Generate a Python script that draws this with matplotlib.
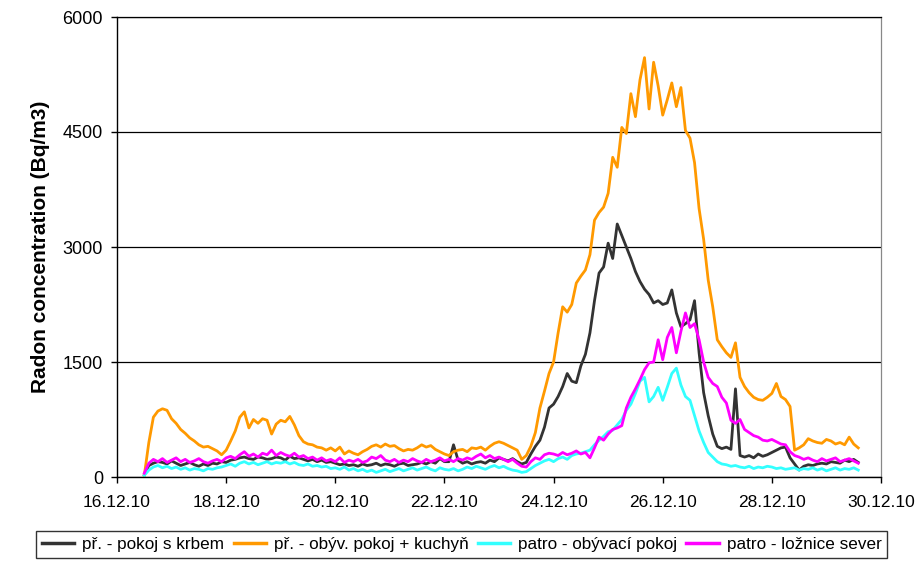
import matplotlib
matplotlib.use("Agg")
import matplotlib.pyplot as plt
import matplotlib.dates as mdates
import pandas as pd

plt.rcParams['font.family'] = ['Liberation Sans', 'DejaVu Sans']

# sampling: every 2 hours starting 16.12.2010 12:00
start_time = "2010-12-16 12:00"
step = "2h"

labels = ["př. - pokoj s krbem", "př. - obýv. pokoj + kuchyň",
          "patro - obývací pokoj", "patro - ložnice sever"]
colors = ["#333333", "#FF9900", "#33FFFF", "#FF00FF"]

krb = [
    30, 150, 180, 200, 190, 170, 210, 180, 150, 170,
    190, 160, 140, 170, 150, 180, 170, 200, 190, 220,
    230, 250, 260, 240, 230, 260, 250, 230, 240, 260,
    250, 220, 270, 240, 250, 230, 210, 230, 200, 220,
    190, 200, 180, 160, 170, 150, 160, 140, 170, 150,
    160, 180, 150, 170, 160, 140, 170, 180, 150, 160,
    170, 190, 170, 200, 180, 240, 200, 200, 420, 220,
    180, 200, 170, 190, 200, 180, 220, 200, 250, 230,
    210, 240, 200, 170, 190, 300, 400, 480, 650, 900,
    950, 1050, 1180, 1350, 1250, 1230, 1450, 1600, 1880, 2300,
    2660, 2740, 3050, 2850, 3300, 3150, 3000, 2850, 2680, 2550,
    2450, 2380, 2270, 2300, 2250, 2270, 2440, 2140, 1960, 2000,
    2050, 2300, 1620, 1100, 800, 560, 400, 370, 390, 360,
    1150, 280, 260, 280, 250, 300, 270, 290, 320, 350,
    380, 390, 250, 170, 90, 140, 160, 150, 170, 180,
    170, 200, 190, 180, 220, 200, 230, 190,
]

obyv = [
    20, 450, 780, 860, 890, 870, 760, 700, 620, 570,
    510, 470, 420, 390, 400, 370, 340, 290, 350, 470,
    600, 780, 850, 640, 750, 700, 760, 740, 560, 690,
    740, 720, 790, 680, 540, 460, 430, 420, 390, 380,
    350, 380, 340, 390, 300, 340, 310, 290, 330, 360,
    400, 420, 390, 430, 400, 410, 370, 340, 360, 350,
    380, 420, 390, 410, 360, 330, 300, 280, 330, 350,
    360, 330, 380, 370, 390, 350, 400, 440, 460, 440,
    410, 380, 350, 230, 280, 400, 580, 900, 1120, 1350,
    1500, 1880, 2220, 2150, 2250, 2530, 2620, 2700, 2900, 3350,
    3450, 3520, 3700, 4170, 4040, 4560, 4480, 5000, 4700, 5180,
    5470, 4800, 5410, 5100, 4720, 4920, 5140, 4830, 5080, 4520,
    4420, 4100, 3500, 3100, 2570, 2220, 1790, 1700, 1620, 1560,
    1750, 1300, 1180, 1100, 1040, 1010, 1000, 1040, 1090, 1220,
    1050, 1010, 920, 350, 380, 420, 500, 470, 450, 440,
    490, 470, 430, 450, 420, 520, 430, 380,
]

patro_obyv = [
    20, 90, 130, 150, 120, 140, 110, 130, 100, 120,
    90, 110, 100, 80, 110, 100, 120, 130, 150, 170,
    140, 180, 200, 170, 190, 160, 180, 200, 170, 190,
    180, 200, 170, 190, 160, 150, 170, 140, 150, 130,
    140, 110, 120, 100, 130, 90, 110, 80, 100, 70,
    90, 60, 80, 100, 70, 90, 110, 80, 100, 120,
    90, 110, 130, 100, 80, 120, 100, 90, 110, 80,
    100, 130, 110, 140, 120, 100, 130, 150, 120, 140,
    110, 90, 80, 60, 70, 110, 150, 180, 210, 230,
    200, 240, 260, 230, 280, 300, 310, 330, 350, 420,
    480, 530, 590, 610, 680, 750, 870, 950, 1090, 1250,
    1300, 980, 1050, 1170, 1000, 1170, 1350, 1420, 1200, 1050,
    1000, 800, 600, 450, 320, 260, 200, 170, 160, 140,
    150, 130, 120, 140, 110, 130, 120, 140, 130, 110,
    120, 100, 110, 120, 90, 110, 100, 120, 90, 110,
    80, 100, 120, 90, 110, 100, 120, 90,
]

loznice = [
    50, 180, 230, 200, 240, 190, 220, 250, 200, 230,
    190, 210, 240, 200, 180, 210, 230, 200, 250, 270,
    240, 290, 330, 270, 300, 260, 310, 290, 350, 280,
    320, 290, 270, 310, 260, 280, 240, 260, 220, 250,
    210, 230, 200, 250, 190, 220, 200, 230, 190, 210,
    260, 240, 280, 220, 200, 230, 190, 220, 200, 240,
    210, 190, 230, 200, 220, 250, 210, 230, 200, 240,
    220, 250, 230, 270, 300, 250, 280, 240, 260, 230,
    200, 230, 180, 140, 130, 200, 250, 230, 290, 310,
    300, 280, 320, 290, 310, 340, 300, 320, 250, 380,
    520, 480, 560, 620, 640, 670, 900, 1040, 1150, 1270,
    1400, 1490, 1500, 1790, 1530, 1820, 1950, 1620, 1900, 2140,
    1950, 2000, 1790, 1500, 1300, 1220, 1180, 1040, 965, 740,
    700, 750, 620, 580, 540, 520, 480, 470, 490, 460,
    430, 420, 330, 280, 260, 230, 250, 220, 200, 240,
    210, 230, 250, 200, 220, 240, 210, 180,
]

series = [krb, obyv, patro_obyv, loznice]
n = len(krb)
times = pd.date_range(start_time, periods=n, freq=step)

yticks = [0, 1500, 3000, 4500, 6000]

fig = plt.figure(figsize=(9.2, 5.63), dpi=100)
ax = fig.add_axes([117/920, 1-477/563, (881-117)/920, (477-17)/563])

handles = []
for vals, lab, col in zip(series, labels, colors):
    m = min(len(vals), n)
    h, = ax.plot(times[:m], vals[:m], color=col, lw=2.0, label=lab)
    handles.append(h)

ax.set_ylim(0, 6000)
ax.set_yticks(yticks)
ax.set_xlim(pd.Timestamp("2010-12-16"), pd.Timestamp("2010-12-30"))
ax.xaxis.set_major_locator(mdates.DayLocator(interval=2))
ax.xaxis.set_major_formatter(mdates.DateFormatter("%d.%m.%y"))
ax.grid(axis='y', color='black', lw=0.9)
ax.set_axisbelow(True)

for s in ['left', 'bottom']:
    ax.spines[s].set_color('black')
    ax.spines[s].set_linewidth(1.0)
ax.spines['top'].set_color('black')
ax.spines['top'].set_linewidth(0.9)
ax.spines['right'].set_color('#888888')
ax.spines['right'].set_linewidth(0.9)

ax.tick_params(axis='y', direction='out', length=4, width=1, pad=6, labelsize=13)
ax.tick_params(axis='x', direction='out', length=4, width=1, pad=9, labelsize=12.5)

fig.text(41/920, 1-247/563, "Radon concentration (Bq/m3)", rotation=90,
         ha='center', va='center', fontsize=15, fontweight='bold')

leg = fig.legend(handles=handles, labels=labels, ncol=4, loc='upper left',
                 bbox_to_anchor=(36/920, 1-531/563), fontsize=12.3,
                 frameon=True, fancybox=False, edgecolor='black',
                 handlelength=1.9, handletextpad=0.45, columnspacing=0.55,
                 borderpad=0.35, borderaxespad=0)
leg.get_frame().set_linewidth(1.0)
for line in leg.get_lines():
    line.set_linewidth(2.5)

fig.savefig("out.png", dpi=100)
